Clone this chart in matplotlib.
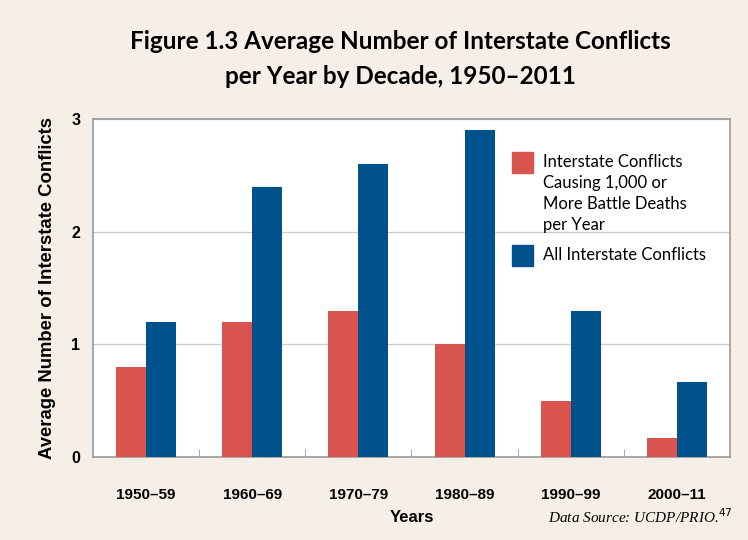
import matplotlib.pyplot as plt
from matplotlib.patches import Rectangle
import numpy as np

decades = ['1950\u201359', '1960\u201369', '1970\u201379', '1980\u201389', '1990\u201399', '2000\u201311']
major_conflicts = [0.8, 1.2, 1.3, 1.0, 0.5, 0.17]
all_conflicts = [1.2, 2.4, 2.6, 2.9, 1.3, 0.67]
labels = ['Interstate Conflicts\nCausing 1,000 or\nMore Battle Deaths\nper Year', 'All Interstate Conflicts']

bg = '#f6efe8'
red = '#d9534f'
blue = '#00528c'
W, H = 748, 540

fig = plt.figure(figsize=(7.48, 5.4), dpi=100, facecolor=bg)
ax = fig.add_axes([93 / W, 83 / H, 637 / W, 338 / H])
ax.set_facecolor('white')

x = np.arange(len(decades))
w = 0.283
ax.bar(x - w / 2, major_conflicts, w, color=red, zorder=3)
ax.bar(x + w / 2, all_conflicts, w, color=blue, zorder=3)

ax.set_xlim(-0.5, len(decades) - 0.5)
ax.set_ylim(0, 3)
ax.set_yticks([0, 1, 2, 3])
ax.set_yticklabels(['0', '1', '2', '3'], fontfamily='Liberation Sans', fontweight='bold', fontsize=11.5)
ax.tick_params(axis='y', length=0, pad=9)
ax.yaxis.grid(True, color='#cccccc', linewidth=1, zorder=0)

ax.set_xticks(x)
ax.set_xticklabels(decades, fontfamily='Liberation Sans', fontweight='bold', fontsize=11)
ax.tick_params(axis='x', length=0, pad=22)
ax.set_xticks(np.arange(0.5, len(decades) - 1, 1), minor=True)
ax.tick_params(axis='x', which='minor', direction='in', length=6, color='#999999')

for s in ax.spines.values():
    s.set_color('#9a9a9a')
    s.set_linewidth(1.2)

ax.set_ylabel('Average Number of Interstate Conflicts', fontfamily='Liberation Sans',
              fontweight='bold', fontsize=13.3, labelpad=11)
ax.set_xlabel('Years', fontfamily='Liberation Sans', fontweight='bold', fontsize=12, labelpad=6)

fig.text(400 / W, 1 - 42 / H, 'Figure 1.3 Average Number of Interstate Conflicts',
         ha='center', va='center', fontfamily='Lato', fontweight='bold', fontsize=17.5)
fig.text(400 / W, 1 - 76 / H, 'per Year by Decade, 1950\u20132011',
         ha='center', va='center', fontfamily='Lato', fontweight='bold', fontsize=17.5)

# legend drawn by hand
for (top, color, text) in [(152, red, labels[0]), (245, blue, labels[1])]:
    fig.patches.append(Rectangle((512 / W, 1 - (top + 21) / H), 21 / W, 21 / H,
                                 color=color, transform=fig.transFigure, figure=fig))
    fig.text(543 / W, 1 - (top + 2) / H, text, ha='left', va='top', fontfamily='Lato',
             fontsize=12, linespacing=1.38)

fig.text(733 / W, 1 - 517 / H, 'Data Source: UCDP/PRIO.$^{47}$', ha='right', va='center',
         fontfamily='Liberation Serif', style='italic', fontsize=11)

fig.savefig('out.png', dpi=100, facecolor=bg)
